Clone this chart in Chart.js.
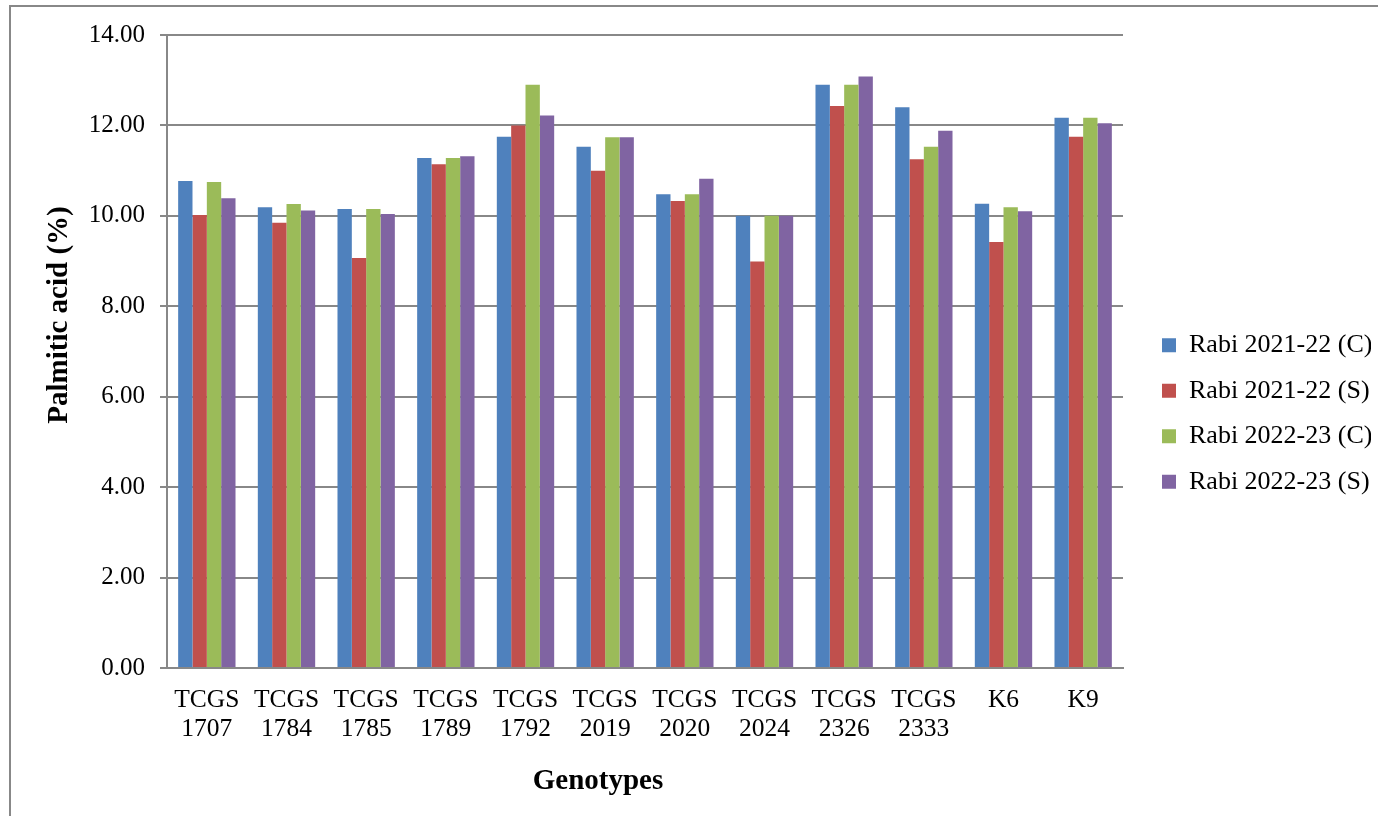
<!DOCTYPE html>
<html>
<head>
<meta charset="utf-8">
<title>Palmitic acid (%) by genotype</title>
<script src="https://cdn.jsdelivr.net/npm/chart.js@4/dist/chart.umd.min.js"></script>
<style>
  html, body { margin: 0; padding: 0; background: #ffffff; }
  #wrap { width: 1378px; height: 816px; position: relative; }
</style>
</head>
<body>
<div id="wrap"><canvas id="chart" width="1378" height="816"></canvas></div>
<script>
// Genotypes on the category axis (two-line labels)
const genotypes = [
  ['TCGS', '1707'], ['TCGS', '1784'], ['TCGS', '1785'], ['TCGS', '1789'],
  ['TCGS', '1792'], ['TCGS', '2019'], ['TCGS', '2020'], ['TCGS', '2024'],
  ['TCGS', '2326'], ['TCGS', '2333'], 'K6', 'K9'
];

// Palmitic acid content (%) per season
const rabi2122C = [10.77, 10.19, 10.15, 11.28, 11.75, 11.53, 10.48, 10.00, 12.90, 12.40, 10.27, 12.17];
const rabi2122S = [10.02,  9.85,  9.07, 11.14, 12.00, 11.00, 10.33,  8.99, 12.43, 11.25,  9.42, 11.75];
const rabi2223C = [10.75, 10.26, 10.15, 11.28, 12.90, 11.74, 10.48, 10.00, 12.90, 11.53, 10.19, 12.17];
const rabi2223S = [10.39, 10.12, 10.04, 11.32, 12.22, 11.74, 10.82, 10.00, 13.08, 11.88, 10.10, 12.05];

const seriesNames = ['Rabi 2021-22 (C)', 'Rabi 2021-22 (S)', 'Rabi 2022-23 (C)', 'Rabi 2022-23 (S)'];
const seriesColors = ['#4F81BD', '#C0504D', '#9BBB59', '#8064A2'];

const yTitle = 'Palmitic acid (%)';
const xTitle = 'Genotypes';

const FONT = "'Liberation Serif', 'Times New Roman', Times, serif";
const AXIS_GREY = '#888888';

Chart.defaults.font.family = FONT;
Chart.defaults.font.size = 25;
Chart.defaults.color = '#000000';

// Outer frame plus the two axis titles
const framePlugin = {
  id: 'frame',
  beforeDraw(chart) {
    const ctx = chart.ctx;
    ctx.save();
    ctx.fillStyle = '#ffffff';
    ctx.fillRect(0, 0, chart.width, chart.height);
    ctx.strokeStyle = AXIS_GREY;
    ctx.lineWidth = 2;
    ctx.beginPath();
    ctx.moveTo(10, chart.height);
    ctx.lineTo(10, 6);
    ctx.lineTo(chart.width, 6);
    ctx.stroke();
    ctx.restore();
  },
  afterDraw(chart) {
    const ctx = chart.ctx;
    ctx.save();
    ctx.font = 'bold 29px ' + FONT;
    ctx.fillStyle = '#000000';
    ctx.textAlign = 'center';
    ctx.textBaseline = 'alphabetic';
    ctx.fillText(xTitle, 598, 789);

    ctx.translate(60, 315);
    ctx.rotate(-Math.PI / 2);
    ctx.textBaseline = 'middle';
    ctx.fillText(yTitle, 0, 0);
    ctx.restore();
  }
};

const seriesData = [rabi2122C, rabi2122S, rabi2223C, rabi2223S];

new Chart(document.getElementById('chart'), {
  type: 'bar',
  data: {
    labels: genotypes,
    datasets: seriesData.map((values, i) => ({
      label: seriesNames[i],
      data: values,
      backgroundColor: seriesColors[i],
      borderWidth: 0,
      categoryPercentage: 0.72,
      barPercentage: 1.0
    }))
  },
  options: {
    responsive: false,
    animation: false,
    devicePixelRatio: 1,
    layout: { padding: { left: 0, top: 35, right: 7, bottom: 24 } },
    plugins: {
      legend: {
        position: 'right',
        align: 'center',
        labels: {
          boxWidth: 14,
          boxHeight: 14,
          padding: 19.5,
          color: '#000000',
          font: { size: 26 }
        }
      },
      tooltip: { enabled: false }
    },
    scales: {
      x: {
        grid: { display: false, drawTicks: false },
        border: { display: true, color: AXIS_GREY, width: 2 },
        ticks: {
          maxRotation: 0,
          autoSkip: false,
          padding: 18,
          font: { size: 25.5, lineHeight: 1.14 }
        },
        afterFit(scale) { scale.height = 124; }
      },
      y: {
        min: 0,
        max: 14,
        grid: { color: AXIS_GREY, lineWidth: 2, tickLength: 7 },
        border: { display: true, color: AXIS_GREY, width: 2 },
        ticks: {
          stepSize: 2,
          padding: 15,
          font: { size: 25 },
          callback: v => Number(v).toFixed(2)
        },
        afterFit(scale) { scale.width = 167; }
      },
      gap: {
        type: 'linear',
        position: 'right',
        display: true,
        grid: { display: false, drawTicks: false },
        border: { display: false },
        ticks: { display: false },
        afterFit(scale) { scale.width = 19.5; }
      }
    }
  },
  plugins: [framePlugin]
});
</script>
</body>
</html>
